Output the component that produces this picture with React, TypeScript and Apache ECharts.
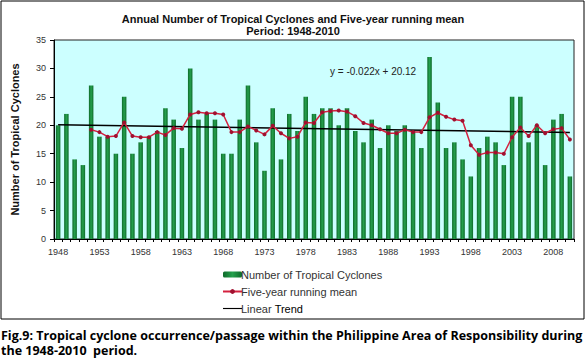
import React, { useEffect, useRef } from "react";
import * as echarts from "echarts";

const years = [
  "1948","1949","1950","1951","1952","1953","1954","1955","1956","1957",
  "1958","1959","1960","1961","1962","1963","1964","1965","1966","1967",
  "1968","1969","1970","1971","1972","1973","1974","1975","1976","1977",
  "1978","1979","1980","1981","1982","1983","1984","1985","1986","1987",
  "1988","1989","1990","1991","1992","1993","1994","1995","1996","1997",
  "1998","1999","2000","2001","2002","2003","2004","2005","2006","2007",
  "2008","2009","2010",
];

const cyclones = [
  20, 22, 14, 13, 27, 18, 18, 15, 25, 15,
  17, 18, 19, 23, 21, 16, 30, 21, 22, 21,
  15, 15, 21, 27, 17, 12, 23, 14, 22, 19,
  25, 22, 23, 23, 20, 23, 19, 17, 21, 16,
  20, 19, 20, 19, 16, 32, 24, 16, 17, 14,
  11, 16, 18, 17, 13, 25, 25, 17, 20, 13,
  21, 22, 11,
];

const runningMean = [
  null, null, null, null, 19.2, 18.8, 18.0, 18.1, 20.5, 18.1,
  17.9, 17.9, 18.8, 18.3, 19.5, 19.4, 21.9, 22.3, 22.1, 22.1,
  21.9, 18.8, 18.8, 19.8, 19.1, 18.4, 19.9, 18.6, 17.7, 18.0,
  20.5, 20.4, 22.3, 22.5, 22.6, 22.4, 21.6, 20.4, 20.0, 19.3,
  18.6, 18.6, 19.2, 18.8, 18.8, 21.4, 22.2, 21.5, 21.0, 20.8,
  16.5, 14.8, 15.2, 15.2, 15.0, 17.9, 19.6, 18.1, 20.0, 18.6,
  19.3, 19.5, 17.5,
];

// Linear trend end values (y = -0.022x + 20.12)
const trendStart = 20.1;
const trendEnd = 18.73;

const titleText = "Annual Number of Tropical Cyclones and Five-year running mean";
const subTitleText = "Period: 1948-2010";
const equationText = "y = -0.022x + 20.12";
const caption1 =
  "Fig.9: Tropical cyclone occurrence/passage within the Philippine Area of Responsibility during";
const caption2 = "the 1948-2010  period.";

export default function App() {
  const ref = useRef<HTMLDivElement>(null);

  useEffect(() => {
    if (!ref.current) return;
    const chart = echarts.init(ref.current, null, { renderer: "svg" });

    const capFont = 'bold 13px "Open Sans"';
    let sx = 1;
    try {
      const c = document.createElement("canvas");
      const ctx = c.getContext("2d");
      if (ctx) {
        ctx.font = capFont;
        const w = ctx.measureText(caption1).width;
        if (w > 0) sx = 582 / w;
      }
    } catch (e) {}

    const trendData = years.map((_, i) =>
      i === 0 ? trendStart : i === years.length - 1 ? trendEnd : null
    );

    const barColor = new echarts.graphic.LinearGradient(0, 0, 1, 0, [
      { offset: 0, color: "#0e6a2a" },
      { offset: 0.5, color: "#25a04d" },
      { offset: 1, color: "#0e6a2a" },
    ]);

    chart.setOption({
      animation: false,
      backgroundColor: "#ffffff",
      title: {
        text: titleText + "\n" + subTitleText,
        left: "center",
        top: 8,
        textStyle: {
          fontFamily: "Liberation Sans",
          fontSize: 11,
          fontWeight: "bold",
          color: "#111",
          lineHeight: 12,
        },
      },
      grid: {
        left: 54,
        top: 40,
        right: 12,
        bottom: 121,
        show: true,
        backgroundColor: "#ccffff",
        borderColor: "#222",
        borderWidth: 1,
        containLabel: false,
      },
      legend: {
        orient: "vertical",
        left: 217,
        top: 264,
        itemWidth: 19,
        itemHeight: 6,
        itemGap: 6,
        data: [
          { name: "Number of Tropical Cyclones" },
          { name: "Five-year running mean" },
          { name: "Linear Trend", icon: "path://M0,0L40,0L40,2.4L0,2.4Z" },
        ],
        textStyle: {
          fontFamily: "Liberation Sans",
          fontSize: 11,
          color: "#333",
          padding: [0, 0, 0, -6],
          rich: {
            t: { fontFamily: "Liberation Sans", fontSize: 11, color: "#000" },
          },
        },
        formatter: (name: string) =>
          name === "Linear Trend" ? "Linear {t|Trend}" : name,
      },
      xAxis: {
        type: "category",
        data: years,
        boundaryGap: true,
        axisLine: { show: true, lineStyle: { color: "#000", width: 1 } },
        axisTick: { show: true, interval: 0, length: 3, lineStyle: { color: "#000" } },
        axisLabel: {
          interval: 4,
          fontFamily: "Liberation Sans",
          fontSize: 9,
          color: "#333",
          margin: 8,
        },
        splitLine: { show: false },
      },
      yAxis: {
        type: "value",
        min: 0,
        max: 35,
        interval: 5,
        name: "Number of Tropical Cyclones",
        nameLocation: "middle",
        nameGap: 34,
        nameTextStyle: {
          fontFamily: "Liberation Sans",
          fontSize: 11,
          fontWeight: "bold",
          color: "#111",
        },
        axisLine: { show: true, lineStyle: { color: "#000", width: 1 } },
        axisTick: { show: true, length: 4, lineStyle: { color: "#000" } },
        axisLabel: {
          fontFamily: "Liberation Sans",
          fontSize: 9,
          color: "#333",
          margin: 8,
        },
        splitLine: { show: false },
      },
      series: [
        {
          name: "Number of Tropical Cyclones",
          type: "bar",
          data: cyclones,
          barWidth: 4.5,
          itemStyle: { color: barColor },
          z: 2,
        },
        {
          name: "Five-year running mean",
          type: "line",
          data: runningMean,
          symbol: "circle",
          symbolSize: 4,
          lineStyle: { color: "#d4213f", width: 1.5 },
          itemStyle: { color: "#a0102f" },
          z: 4,
        },
        {
          name: "Linear Trend",
          type: "line",
          data: trendData,
          connectNulls: true,
          symbol: "none",
          lineStyle: { color: "#000", width: 1.5 },
          itemStyle: { color: "#000" },
          z: 3,
        },
      ],
      graphic: [
        {
          type: "rect",
          shape: { x: 1, y: 1, width: 583, height: 318 },
          style: { fill: "none", stroke: "#000", lineWidth: 1 },
          silent: true,
          z: 10,
        },
        {
          type: "text",
          x: 330,
          y: 71,
          style: {
            text: equationText,
            font: '10px "Liberation Sans"',
            fill: "#222",
            verticalAlign: "middle",
          },
          z: 10,
        },
        {
          type: "text",
          x: 1,
          y: 335,
          scaleX: sx,
          style: {
            text: caption1,
            font: capFont,
            fill: "#000",
            verticalAlign: "middle",
          },
          z: 10,
        },
        {
          type: "text",
          x: 1,
          y: 350,
          scaleX: sx,
          style: {
            text: caption2,
            font: capFont,
            fill: "#000",
            verticalAlign: "middle",
          },
          z: 10,
        },
      ],
    });

    return () => {
      chart.dispose();
    };
  }, []);

  return (
    <div
      ref={ref}
      style={{ position: "fixed", left: 0, top: 0, width: 586, height: 360 }}
    />
  );
}
